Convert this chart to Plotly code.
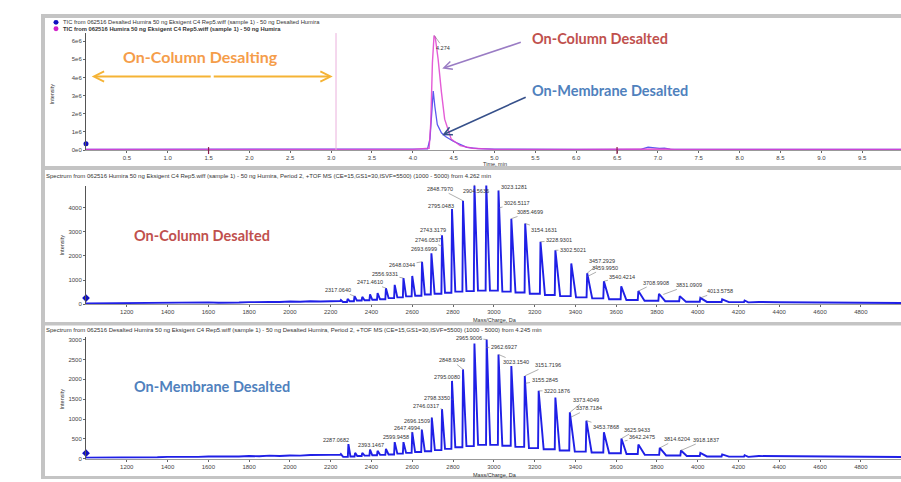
import plotly.graph_objects as go

W, H = 901, 482
def px(x): return x / W
def py(y): return 1 - y / H

# ---------------- DATA ----------------
# TIC traces (time in min, intensity in counts)
TIC_T_DESALTED = [0, 1.0, 2.0, 3.0, 4.0, 4.18, 4.21, 4.23, 4.25, 4.27, 4.30, 4.35, 4.40, 4.49, 4.58, 4.66, 4.8, 5.0, 6.0, 6.8, 6.88, 6.95, 7.02, 7.08, 7.15, 8.0, 9.0, 10.0]
TIC_I_DESALTED = [0.04e6, 0.04e6, 0.04e6, 0.04e6, 0.04e6, 0.06e6, 0.6e6, 2.1e6, 3.25e6, 2.4e6, 1.4e6, 0.95e6, 0.75e6, 0.5e6, 0.3e6, 0.15e6, 0.08e6, 0.05e6, 0.04e6, 0.05e6, 0.16e6, 0.12e6, 0.09e6, 0.11e6, 0.05e6, 0.04e6, 0.04e6, 0.04e6]
TIC_T_HUMIRA = [0, 1.0, 2.0, 3.0, 4.0, 4.2, 4.22, 4.24, 4.26, 4.275, 4.31, 4.35, 4.39, 4.47, 4.58, 4.73, 4.9, 5.0, 6.0, 6.8, 6.9, 7.0, 7.1, 7.2, 8.0, 9.0, 10.0]
TIC_I_HUMIRA = [0.03e6, 0.03e6, 0.03e6, 0.03e6, 0.04e6, 0.1e6, 1.5e6, 4.8e6, 6.3e6, 6.2e6, 5.0e6, 3.2e6, 1.7e6, 0.6e6, 0.24e6, 0.1e6, 0.06e6, 0.04e6, 0.04e6, 0.05e6, 0.09e6, 0.08e6, 0.06e6, 0.04e6, 0.03e6, 0.03e6, 0.03e6]
TIC_APEX_LABEL = "4.274"
GRADIENT_END_MIN = 3.06

# Spectra (m/z in Da, intensity in counts)
BASE_MZ = [1000, 1050, 1100, 1150, 1200, 1250, 1300, 1350, 1400, 1450, 1500, 1550, 1600,
           1650, 1700, 1750, 1800, 1850, 1900, 1950, 2000, 2050, 2100, 2150, 2200]
BASE_I_COLUMN = [30, 35, 30, 40, 35, 45, 40, 50, 45, 55, 50, 60, 70, 55, 75, 65, 80, 70, 90, 85, 110, 95, 120, 110, 130]
BASE_I_MEMBRANE = [30, 30, 35, 30, 40, 35, 45, 40, 50, 45, 55, 50, 60, 55, 65, 60, 70, 65, 80, 70, 85, 80, 95, 90, 100]

PEAK_MZ_COLUMN = [2250, 2283, 2317, 2355, 2393, 2430, 2471, 2514, 2557, 2600, 2648, 2694, 2746, 2795, 2849, 2905,
                  2963, 3023, 3086, 3154, 3229, 3302, 3380, 3458, 3540, 3625, 3709, 3810, 3912, 4013, 4120, 4230]
PEAK_I_COLUMN = [170, 220, 330, 300, 410, 460, 660, 800, 1080, 1170, 1760, 2110, 2860, 3950, 4300, 4960,
                 5000, 4720, 3550, 3350, 2590, 2240, 1690, 1280, 950, 740, 540, 430, 330, 260, 200, 150]
VALLEY_I_COLUMN = [90, 120, 150, 160, 180, 200, 250, 280, 320, 350, 400, 430, 470, 520, 540, 560,
                   560, 520, 480, 430, 380, 330, 280, 240, 200, 170, 140, 120, 100, 90, 80, 70]

PEAK_MZ_MEMBRANE = [2250, 2287, 2320, 2355, 2393, 2430, 2471, 2514, 2557, 2600, 2647, 2696, 2746, 2795, 2849, 2905,
                    2965, 3023, 3086, 3152, 3220, 3302, 3373, 3454, 3540, 3626, 3709, 3814, 3918, 4013, 4120, 4230]
PEAK_I_MEMBRANE = [120, 370, 150, 150, 230, 200, 250, 420, 420, 670, 735, 1040, 1250, 1960, 2250, 2900,
                   3000, 2625, 2335, 2085, 1710, 1540, 1170, 960, 670, 510, 360, 275, 210, 150, 110, 90]
VALLEY_I_MEMBRANE = [50, 60, 70, 80, 90, 100, 110, 130, 150, 170, 190, 220, 250, 290, 320, 350,
                     350, 330, 300, 270, 240, 210, 180, 160, 140, 120, 100, 85, 70, 60, 55, 50]

TAIL_MZ = [4300, 4400, 4500, 4600, 4700, 4800, 4900, 5000]
TAIL_I_COLUMN = [90, 75, 65, 60, 55, 50, 50, 45]
TAIL_I_MEMBRANE = [70, 65, 60, 60, 55, 50, 50, 45]

# Peak labels: text, intensity where leader meets the trace
LABELS_COLUMN = ["2317.0640", "2471.4610", "2556.9331", "2648.0344", "2693.6999", "2746.0537", "2743.3179",
                 "2795.0483", "2848.7970", "2904.5636", "3023.1281", "3026.5117", "3085.4699", "3154.1631",
                 "3228.9301", "3302.5021", "3457.2929", "3459.9950", "3540.4214", "3708.9908", "3831.0909", "4013.5758"]
LABEL_HIT_COLUMN = [330, 660, 1080, 1760, 2110, 2400, 2860, 3950, 4300, 4960, 4720, 4000, 3550, 3350,
                    2590, 2240, 1280, 1150, 950, 540, 400, 260]
LABELS_MEMBRANE = ["2287.0682", "2393.1467", "2599.9458", "2647.4994", "2696.1509", "2746.0317", "2798.3350",
                   "2795.0080", "2848.9349", "2965.9006", "2962.6927", "3023.1540", "3151.7196", "3155.2845",
                   "3220.1876", "3373.4049", "3378.7184", "3453.7868", "3625.9433", "3642.2475", "3814.6204", "3918.1837"]
LABEL_HIT_MEMBRANE = [370, 230, 670, 735, 1040, 1250, 1500, 1960, 2250, 3000, 2800, 2625, 2085, 1900,
                      1710, 1170, 1050, 960, 510, 450, 275, 210]

# label text anchor positions (layout, m/z & intensity units)
LABEL_POS_COLUMN = [(2236, 591), (2393, 909), (2466, 1240), (2550, 1612), (2658, 2273), (2677, 2657), (2700, 3070),
                    (2741, 4062), (2736, 4793), (2913, 4723), (3098, 4888), (3114, 4202), (3178, 3831), (3244, 3099),
                    (3320, 2657), (3388, 2244), (3533, 1806), (3545, 1517), (3631, 1145), (3795, 897), (3957, 798), (4107, 550)]
LABEL_POS_MEMBRANE = [(2224, 475), (2398, 360), (2522, 560), (2572, 768), (2622, 960), (2667, 1318), (2721, 1518),
                      (2770, 2068), (2793, 2485), (2878, 3043), (3049, 2818), (3109, 2435), (3266, 2360), (3249, 1985),
                      (3310, 1710), (3450, 1485), (3467, 1275), (3550, 810), (3702, 735), (3727, 543), (3897, 500), (4041, 485)]

TITLE_COLUMN = ("Spectrum from 062516 Humira 50 ng Eksigent C4 Rep5.wiff (sample 1) - 50 ng Humira, Period 2, "
                "+TOF MS (CE=15,GS1=30,ISVF=5500) (1000 - 5000) from 4.262 min")
TITLE_MEMBRANE = ("Spectrum from 062516 Desalted Humira 50 ng Eksigent C4 Rep5.wiff (sample 1) - 50 ng Desalted Humira, "
                  "Period 2, +TOF MS (CE=15,GS1=30,ISVF=5500) (1000 - 5000) from 4.245 min")
LEGEND_DESALTED = "TIC from 062516 Desalted Humira 50 ng Eksigent C4 Rep5.wiff (sample 1) - 50 ng Desalted Humira"
LEGEND_HUMIRA = "TIC from 062516 Humira 50 ng Eksigent C4 Rep5.wiff (sample 1) - 50 ng Humira"

# ---------------- BUILD ----------------
def build_spectrum(base_mz, base_i, pk_mz, pk_i, valley, tail_mz, tail_i):
    xs, ys = list(base_mz), list(base_i)
    prev_v = base_i[-1]
    for k, (m, h, v) in enumerate(zip(pk_mz, pk_i, valley)):
        nxt = pk_mz[k + 1] if k + 1 < len(pk_mz) else m + 60
        xs += [m - 3, m, m + 0.3 * (nxt - m)]
        ys += [prev_v, h, v]
        prev_v = v
    xs += tail_mz
    ys += tail_i
    return xs, ys

FONT = "Liberation Sans, Arial, sans-serif"
ANN_FONT = "Lato, Open Sans, sans-serif"
BLUE = "#1f1fe6"
PINK = "#e040d0"

fig = go.Figure()

fig.add_trace(go.Scatter(x=TIC_T_DESALTED, y=TIC_I_DESALTED, mode="lines",
                         line=dict(color="#5a5af0", width=1.3), xaxis="x", yaxis="y",
                         name=LEGEND_DESALTED, showlegend=False))
fig.add_trace(go.Scatter(x=TIC_T_HUMIRA, y=TIC_I_HUMIRA, mode="lines",
                         line=dict(color=PINK, width=1.4), opacity=0.85, xaxis="x", yaxis="y",
                         name=LEGEND_HUMIRA, showlegend=False))

sx, sy = build_spectrum(BASE_MZ, BASE_I_COLUMN, PEAK_MZ_COLUMN, PEAK_I_COLUMN, VALLEY_I_COLUMN, TAIL_MZ, TAIL_I_COLUMN)
fig.add_trace(go.Scatter(x=sx, y=sy, mode="lines", line=dict(color=BLUE, width=1.9),
                         xaxis="x2", yaxis="y2", showlegend=False))
sx, sy = build_spectrum(BASE_MZ, BASE_I_MEMBRANE, PEAK_MZ_MEMBRANE, PEAK_I_MEMBRANE, VALLEY_I_MEMBRANE, TAIL_MZ, TAIL_I_MEMBRANE)
fig.add_trace(go.Scatter(x=sx, y=sy, mode="lines", line=dict(color=BLUE, width=1.9),
                         xaxis="x3", yaxis="y3", showlegend=False))

# start markers at left edge
fig.add_trace(go.Scatter(x=[0], y=[0.35e6], mode="markers", marker=dict(symbol="circle", size=5, color="#1010c0"),
                         xaxis="x", yaxis="y", cliponaxis=False, showlegend=False))
fig.add_trace(go.Scatter(x=[1000], y=[250], mode="markers", marker=dict(symbol="diamond", size=6, color="#1010c0"),
                         xaxis="x2", yaxis="y2", cliponaxis=False, showlegend=False))
fig.add_trace(go.Scatter(x=[1000], y=[143], mode="markers", marker=dict(symbol="diamond", size=6, color="#1010c0"),
                         xaxis="x3", yaxis="y3", cliponaxis=False, showlegend=False))

xdom = [px(86), 1.0]
axis_common = dict(showgrid=False, zeroline=False, showline=True, linecolor="#555", linewidth=1,
                   ticks="outside", ticklen=2, tickcolor="#666",
                   tickfont=dict(family=FONT, size=6, color="#444"))
xaxis_common = dict(axis_common, linecolor="#999")

fig.update_layout(
    width=W, height=H, margin=dict(l=0, r=0, t=0, b=0),
    paper_bgcolor="white", plot_bgcolor="white", showlegend=False,
    xaxis=dict(xaxis_common, domain=xdom, range=[0, (901 - 86) / 81.7], anchor="y",
               tickvals=[0.5 * k for k in range(1, 20)], ticktext=[f"{0.5 * k:.1f}" for k in range(1, 20)]),
    yaxis=dict(axis_common, domain=[py(151), py(33.3)], range=[0, (151 - 33.3) / 18.28 * 1e6], anchor="x",
               tickvals=[k * 1e6 for k in range(7)], ticktext=[f"{k}e6" if k else "0e0" for k in range(7)]),
    xaxis2=dict(xaxis_common, domain=xdom, range=[1000, 1000 + (901 - 86) / 0.2039], anchor="y2",
                tickvals=list(range(1200, 5000, 200))),
    yaxis2=dict(axis_common, domain=[py(306), py(186.7)], range=[0, (306 - 186.7) / 0.0242], anchor="x2",
                tickvals=[0, 1000, 2000, 3000, 4000]),
    xaxis3=dict(xaxis_common, domain=xdom, range=[1000, 1000 + (901 - 86) / 0.2039], anchor="y3",
                tickvals=list(range(1200, 5000, 200))),
    yaxis3=dict(axis_common, domain=[py(461.7), py(339)], range=[0, (461.7 - 339) * 25], anchor="x3",
                tickvals=[0, 500, 1000, 1500, 2000, 2500, 3000]),
)

GRAY = "#c4c4c4"
shapes = [
    dict(type="rect", xref="paper", yref="paper", x0=px(42), x1=1, y0=py(18), y1=py(14), fillcolor=GRAY, line_width=0),
    dict(type="rect", xref="paper", yref="paper", x0=px(41), x1=px(45), y0=0, y1=py(14), fillcolor=GRAY, line_width=0),
    dict(type="rect", xref="paper", yref="paper", x0=px(42), x1=1, y0=py(171), y1=py(167), fillcolor=GRAY, line_width=0),
    dict(type="rect", xref="paper", yref="paper", x0=px(42), x1=1, y0=py(327.5), y1=py(324), fillcolor=GRAY, line_width=0),
    dict(type="rect", xref="paper", yref="paper", x0=px(42), x1=1, y0=0, y1=py(479), fillcolor=GRAY, line_width=0),
    dict(type="line", xref="x", yref="y", x0=GRADIENT_END_MIN, x1=GRADIENT_END_MIN, y0=0, y1=6.44e6,
         line=dict(color="#eab0dc", width=1)),
    dict(type="line", xref="x", yref="paper", x0=1.5, x1=1.5, y0=py(155), y1=py(148), line=dict(color="#8b1a4a", width=1.2)),
    dict(type="line", xref="x", yref="paper", x0=6.5, x1=6.5, y0=py(155), y1=py(148), line=dict(color="#8b1a4a", width=1.2)),
    # legend dots
    dict(type="circle", xref="paper", yref="paper", x0=px(53.5), x1=px(58.5), y0=py(25), y1=py(20),
         fillcolor="#1010c0", line_width=0),
    dict(type="circle", xref="paper", yref="paper", x0=px(53.5), x1=px(58.5), y0=py(31.5), y1=py(26.5),
         fillcolor="#d020c8", line_width=0),
]
fig.update_layout(shapes=shapes)

anns = []
def text(x, y, s, size=6, color="#333", xanchor="center", angle=0, family=FONT, bold=False):
    anns.append(dict(xref="paper", yref="paper", x=px(x), y=py(y), text=(f"<b>{s}</b>" if bold else s),
                     showarrow=False, xanchor=xanchor, yanchor="middle", textangle=angle,
                     font=dict(family=family, size=size, color=color)))

# legend of top panel
text(61, 22.5, LEGEND_DESALTED, size=5.8, xanchor="left")
text(61, 29, LEGEND_HUMIRA, size=5.8, xanchor="left", bold=True)

# panel titles
text(44, 177, TITLE_COLUMN, size=6, xanchor="left")
text(44, 332, TITLE_MEMBRANE, size=6, xanchor="left")

# axis titles
text(52, 95, "Intensity", size=5.5, angle=-90)
text(62, 247, "Intensity", size=5.5, angle=-90)
text(62, 402, "Intensity", size=5.5, angle=-90)
text(495, 165, "Time, min", size=5.5)
text(495, 322, "Mass/Charge, Da", size=5.5)
text(495, 478, "Mass/Charge, Da", size=5.5)

# big call-out texts
text(200, 57, "On-Column Desalting", size=16, color="#F59D4A", family=ANN_FONT, bold=True)
text(600, 39, "On-Column Desalted", size=14.5, color="#C0504D", family=ANN_FONT, bold=True)
text(610, 91, "On-Membrane Desalted", size=14.5, color="#4F81BD", family=ANN_FONT, bold=True)
text(202, 237, "On-Column Desalted", size=14.5, color="#C0504D", family=ANN_FONT, bold=True)
text(212, 389, "On-Membrane Desalted", size=14.5, color="#4F81BD", family=ANN_FONT, bold=True)

# arrows in TIC panel
def arrow(x, y, ax, ay, color, width=1.6, head=5, size=1.0):
    anns.append(dict(xref="x", yref="y", axref="x", ayref="y", x=x, y=y, ax=ax, ay=ay, text="",
                     showarrow=True, arrowhead=head, arrowsize=size, arrowwidth=width, arrowcolor=color,
                     standoff=0, startstandoff=0))

mid = (0.07 + 3.02) / 2
arrow(0.07, 4.05e6, mid, 4.05e6, "#F5B335", 2)
arrow(3.02, 4.05e6, mid, 4.05e6, "#F5B335", 2)
arrow(4.36, 4.49e6, 5.34, 5.96e6, "#9A7CC4", 1.6)
arrow(4.36, 0.82e6, 5.40, 2.95e6, "#36508a", 1.6)

# apex label in TIC
anns.append(dict(xref="x", yref="y", axref="x", ayref="y", x=4.265, y=6.3e6, ax=4.37, ay=5.63e6,
                 text=TIC_APEX_LABEL, showarrow=True, arrowhead=0, arrowwidth=0.6, arrowcolor="#777",
                 font=dict(family=FONT, size=5.5, color="#333")))

def peak_labels(labels, hits, pos, xr, yr):
    for lab, hit, (lx, ly) in zip(labels, hits, pos):
        anns.append(dict(xref=xr, yref=yr, axref=xr, ayref=yr, x=float(lab), y=hit, ax=lx, ay=ly,
                         text=lab, showarrow=True, arrowhead=0, arrowwidth=0.6, arrowcolor="#777",
                         standoff=0, font=dict(family=FONT, size=5.5, color="#333")))

peak_labels(LABELS_COLUMN, LABEL_HIT_COLUMN, LABEL_POS_COLUMN, "x2", "y2")
peak_labels(LABELS_MEMBRANE, LABEL_HIT_MEMBRANE, LABEL_POS_MEMBRANE, "x3", "y3")

fig.update_layout(annotations=anns)
fig.write_html("out.html")
